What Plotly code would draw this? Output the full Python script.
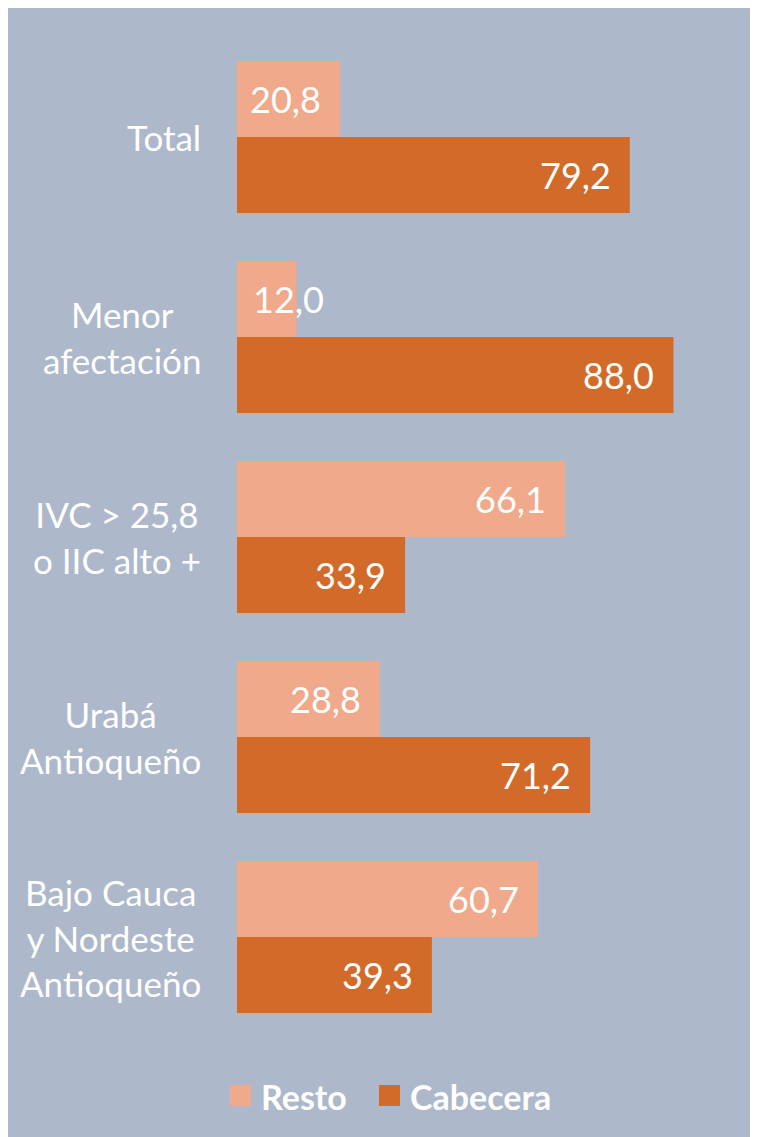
import plotly.graph_objects as go

categories = ["Total", "Menor<br>afectación", "IVC > 25,8<br>o IIC alto +",
              "Urabá<br>Antioqueño", "Bajo Cauca<br>y Nordeste<br>Antioqueño"]
resto = [20.8, 12.0, 66.1, 28.8, 60.7]
cabecera = [79.2, 88.0, 33.9, 71.2, 39.3]
series_names = ["Resto", "Cabecera"]
colors = ["#f0a98a", "#d26b2a"]

# page body has an 8px margin; figure extends past the window edge
W, H = 758, 1137
ML, MT = 229, 29
PW, PH = 496, 1000
MR = W - ML - PW
MB = H - MT - PH
BG = "#adb8cb"
FONT = "Lato"


def px2x(px):
    return (px - ML) / PW


def py2y(py):
    return (MT + PH - py) / PH


idx = list(range(len(categories)))
fig = go.Figure()
for name, vals, col in zip(series_names, [resto, cabecera], colors):
    fig.add_trace(go.Bar(y=idx, x=vals, orientation="h", name=name,
                         marker=dict(color=col, line=dict(width=0)),
                         showlegend=False, hoverinfo="skip"))

annotations = []
# category labels
for i, c in enumerate(categories):
    annotations.append(dict(x=0, y=i, xref="x", yref="y", text=c, showarrow=False,
                            xanchor="right", yanchor="middle", align="center",
                            xshift=-34, font=dict(family=FONT, size=35, color="white")))
# value labels
for off, vals in zip([-0.19, 0.19], [resto, cabecera]):
    for i, v in enumerate(vals):
        label = f"{v:.1f}".replace(".", ",")
        if v < 15:
            a = dict(x=0, xanchor="left", xshift=14)
        else:
            a = dict(x=v, xanchor="right", xshift=-17)
        a.update(y=i + off, xref="x", yref="y", text=label, showarrow=False,
                 yanchor="middle", font=dict(family=FONT, size=36, color="white"))
        annotations.append(a)

shapes = []
# manual legend (figure pixel coords)
leg_sq = [(222, 243), (371, 392)]
leg_tx = [253, 402]
for (a, b), tx, name, col in zip(leg_sq, leg_tx, series_names, colors):
    shapes.append(dict(type="rect", xref="paper", yref="paper", x0=px2x(a), x1=px2x(b),
                       y0=py2y(1098), y1=py2y(1077), fillcolor=col, line=dict(width=0)))
    annotations.append(dict(x=px2x(tx - 2), y=py2y(1088), xref="paper", yref="paper",
                            text=f"<b>{name}</b>", showarrow=False, xanchor="left",
                            yanchor="middle",
                            font=dict(family=FONT, size=34, color="white")))

fig.update_layout(
    width=W, height=H,
    margin=dict(l=ML, r=MR, t=MT, b=MB, autoexpand=False),
    paper_bgcolor=BG, plot_bgcolor=BG,
    barmode="group", bargap=0.24, bargroupgap=0,
    xaxis=dict(range=[0, 100], visible=False, fixedrange=True),
    yaxis=dict(range=[4.5, -0.5], visible=False, fixedrange=True),
    annotations=annotations, shapes=shapes,
    showlegend=False,
)
fig.write_html(
    "out.html",
    post_script="document.documentElement.style.overflow='hidden';"
                "document.body.style.overflow='hidden';",
)
